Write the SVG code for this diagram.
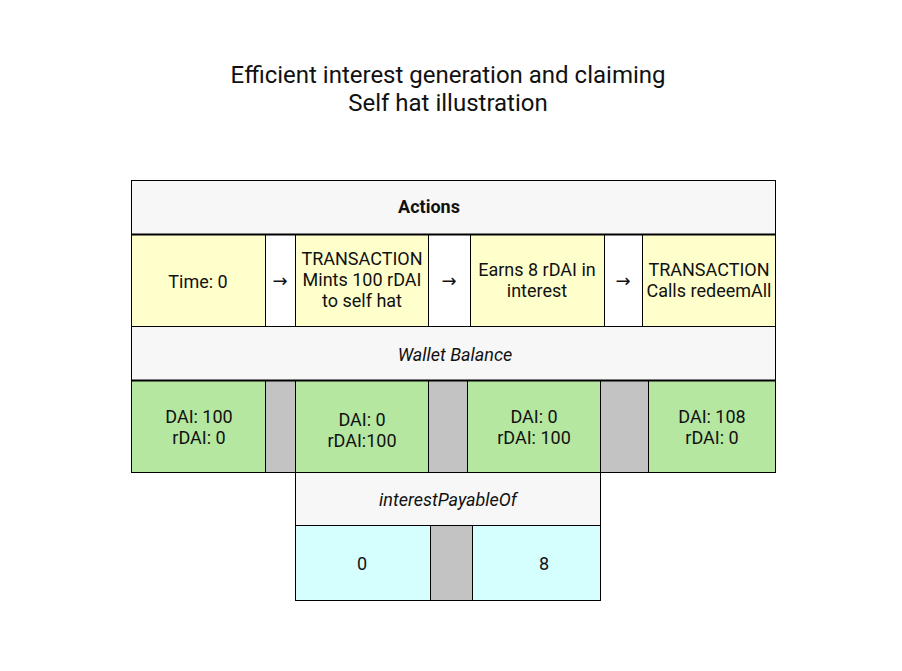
<svg xmlns="http://www.w3.org/2000/svg" width="902" height="671" viewBox="0 0 902 671">
<style>
text{font-family:Roboto,"Liberation Sans",sans-serif;fill:#111;text-anchor:middle}
.t{font-size:24px}
.c{font-size:18px}
.a{font-size:18px;font-family:"DejaVu Sans",sans-serif}
.h{fill:#f7f7f7;stroke:#000;stroke-width:1}
.y{fill:#ffffcc;stroke:#000;stroke-width:1}
.g{fill:#b5e7a0;stroke:#000;stroke-width:1}
.b{fill:#d5ffff;stroke:#000;stroke-width:1}
.s{fill:#c3c3c3;stroke:#000;stroke-width:1}
.w{fill:#fff;stroke:#000;stroke-width:1}
.i{font-style:italic}
</style>
<rect width="902" height="671" fill="#fff"/>
<g id="title">
<text class="t" x="448" y="83">Efficient interest generation and claiming</text>
<text class="t" x="448" y="111">Self hat illustration</text>
</g>
<g id="actions-header">
<rect class="h" x="131.5" y="180.5" width="644" height="54"/>
<text class="c" x="429" y="213" font-weight="bold" font-size="17">Actions</text>
</g>
<g id="action-time0">
<rect class="y" x="131.5" y="234.5" width="134" height="92"/>
<text class="c" x="198" y="288">Time: 0</text>
</g>
<g id="arrow1">
<rect class="w" x="265.5" y="234.5" width="30" height="92"/>
<text class="a" x="280" y="287">→</text>
</g>
<g id="action-mint">
<rect class="y" x="295.5" y="234.5" width="133" height="92"/>
<text class="c" x="362" y="265">TRANSACTION</text>
<text class="c" x="362" y="286">Mints 100 rDAI</text>
<text class="c" x="362" y="307">to self hat</text>
</g>
<g id="arrow2">
<rect class="w" x="428.5" y="234.5" width="42" height="92"/>
<text class="a" x="449" y="287">→</text>
</g>
<g id="action-earn">
<rect class="y" x="470.5" y="234.5" width="134" height="92"/>
<text class="c" x="537" y="276">Earns 8 rDAI in</text>
<text class="c" x="537" y="297">interest</text>
</g>
<g id="arrow3">
<rect class="w" x="604.5" y="234.5" width="38" height="92"/>
<text class="a" x="623" y="287">→</text>
</g>
<g id="action-redeem">
<rect class="y" x="642.5" y="234.5" width="133" height="92"/>
<text class="c" x="709" y="276">TRANSACTION</text>
<text class="c" x="709" y="297">Calls redeemAll</text>
</g>
<g id="wallet-header">
<rect class="h" x="131.5" y="326.5" width="644" height="54"/>
<text class="c i" x="455" y="361">Wallet Balance</text>
</g>
<g id="wallet-1">
<rect class="g" x="131.5" y="380.5" width="134" height="92"/>
<text class="c" x="199" y="423">DAI: 100</text>
<text class="c" x="199" y="444">rDAI: 0</text>
</g>
<rect class="s" x="265.5" y="380.5" width="30" height="92"/>
<g id="wallet-2">
<rect class="g" x="295.5" y="380.5" width="133" height="92"/>
<text class="c" x="362" y="426">DAI: 0</text>
<text class="c" x="362" y="447">rDAI:100</text>
</g>
<rect class="s" x="428.5" y="380.5" width="39" height="92"/>
<g id="wallet-3">
<rect class="g" x="467.5" y="380.5" width="133" height="92"/>
<text class="c" x="534" y="423">DAI: 0</text>
<text class="c" x="534" y="444">rDAI: 100</text>
</g>
<rect class="s" x="600.5" y="380.5" width="48" height="92"/>
<g id="wallet-4">
<rect class="g" x="648.5" y="380.5" width="127" height="92"/>
<text class="c" x="712" y="423">DAI: 108</text>
<text class="c" x="712" y="444">rDAI: 0</text>
</g>
<g id="interest-header">
<rect class="h" x="295.5" y="472.5" width="305" height="53"/>
<text class="c i" x="448" y="506">interestPayableOf</text>
</g>
<g id="interest-1">
<rect class="b" x="295.5" y="525.5" width="135" height="75"/>
<text class="c" x="362" y="570">0</text>
</g>
<rect class="s" x="430.5" y="525.5" width="42" height="75"/>
<g id="interest-2">
<rect class="b" x="472.5" y="525.5" width="128" height="75"/>
<text class="c" x="544" y="570">8</text>
</g>
<g id="connectors" stroke="#000" stroke-width="2">
<line x1="131" y1="234.5" x2="776" y2="234.5"/>
<line x1="131" y1="380.5" x2="776" y2="380.5"/>
</g>
</svg>
